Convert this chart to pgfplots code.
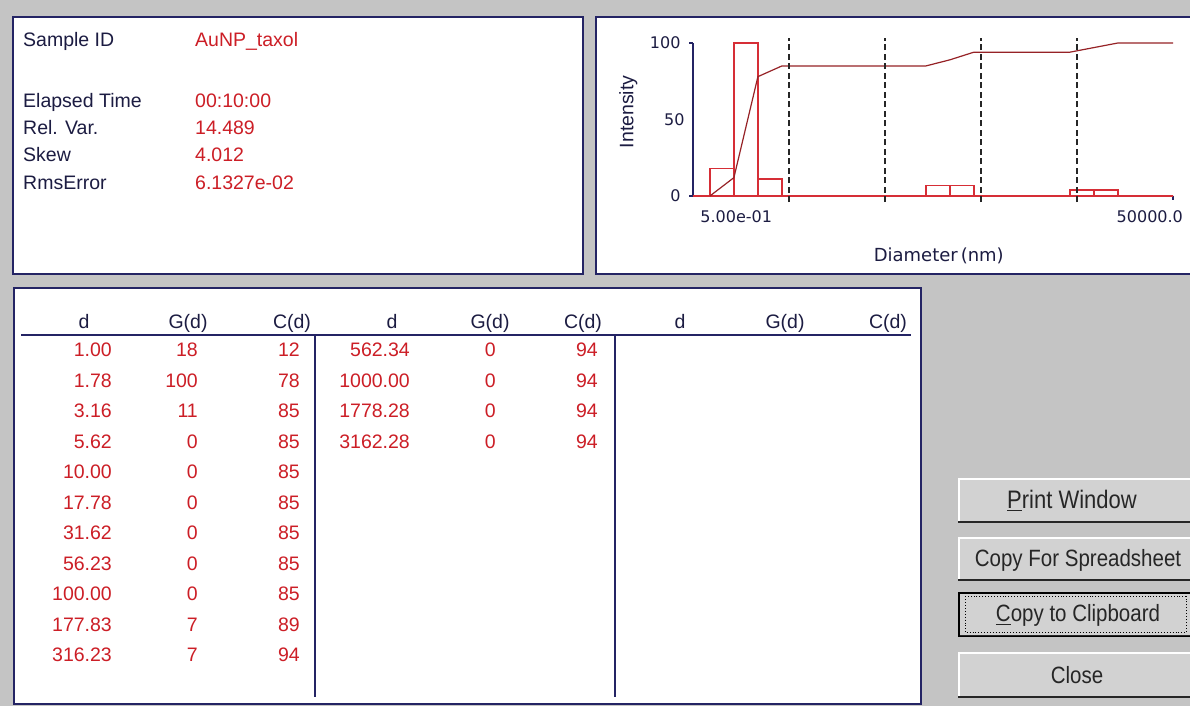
\documentclass[border=0pt]{standalone}
\usepackage{pgfplots}
\pgfplotsset{compat=1.18}
\usepackage{fontspec}
\usepackage{graphicx}
\setmainfont{Liberation Sans}
\newfontfamily\dejavu{DejaVu Sans}

\definecolor{winbg}{RGB}{196,196,196}
\definecolor{btnface}{RGB}{210,210,210}
\definecolor{navy}{RGB}{36,36,100}
\definecolor{labeltext}{RGB}{28,28,66}
\definecolor{valred}{RGB}{204,30,38}
\definecolor{plotred}{RGB}{214,46,54}
\definecolor{cumred}{RGB}{150,34,38}

\newcommand\uifont{\fontsize{19.5}{22}\selectfont}
\newcommand\btnfont{\fontsize{20.5}{22}\selectfont}
\newcommand\btntext[1]{\scalebox{1}[1.15]{#1}}

\begin{document}
\begin{tikzpicture}[x=1pt,y=1pt]
\useasboundingbox (0,0) rectangle (1190,706);
\clip (0,0) rectangle (1190,706);
\fill[winbg] (0,0) rectangle (1190,706);

\begin{scope}[shift={(0,706)}, yscale=-1]
  % panels
  \filldraw[fill=white, draw=navy, line width=2] (13,17) rectangle (583,274);
  \filldraw[fill=white, draw=navy, line width=2] (596,17) rectangle (1200,274);
  \filldraw[fill=white, draw=navy, line width=2] (14,288) rectangle (921,704);

  % sample summary
  \begin{scope}[every node/.style={font=\uifont, inner sep=0pt}]
    \node[anchor=base west, text=labeltext] at (23,47)  {Sample ID};
    \node[anchor=base west, text=labeltext] at (23,108) {Elapsed Time};
    \node[anchor=base west, text=labeltext] at (23,135) {Rel. Var.};
    \node[anchor=base west, text=labeltext] at (23,162) {Skew};
    \node[anchor=base west, text=labeltext] at (23,190) {RmsError};
    \node[anchor=base west, text=valred] at (195,47)  {AuNP\_taxol};
    \node[anchor=base west, text=valred] at (195,108) {00:10:00};
    \node[anchor=base west, text=valred] at (195,135) {14.489};
    \node[anchor=base west, text=valred] at (195,162) {4.012};
    \node[anchor=base west, text=valred] at (195,190) {6.1327e-02};
  \end{scope}

  % distribution table
  \draw[navy, line width=2] (21,335) -- (911,335);
  \draw[navy, line width=2] (315,335) -- (315,697);
  \draw[navy, line width=2] (615,335) -- (615,697);
  \begin{scope}[every node/.style={font=\uifont, inner sep=0pt, text=labeltext, anchor=base}]
    \foreach \x/\h in {84/d, 188/G(d), 292/C(d), 392/d, 490/G(d), 583/C(d), 680/d, 785/G(d), 888/C(d)}
      \node at (\x,329) {\h};
  \end{scope}
  \begin{scope}[every node/.style={font=\uifont, inner sep=0pt, text=valred, anchor=base east}]
    \foreach \d/\g/\c [count=\i from 0] in {1.00/18/12, 1.78/100/78, 3.16/11/85,
        5.62/0/85, 10.00/0/85, 17.78/0/85, 31.62/0/85, 56.23/0/85,
        100.00/0/85, 177.83/7/89, 316.23/7/94} {
      \node at (112,357+30.5*\i) {\d};
      \node at (198,357+30.5*\i) {\g};
      \node at (300,357+30.5*\i) {\c};
    }
    \foreach \d/\g/\c [count=\i from 0] in {562.34/0/94, 1000.00/0/94,
        1778.28/0/94, 3162.28/0/94} {
      \node at (410,357+30.5*\i) {\d};
      \node at (496,357+30.5*\i) {\g};
      \node at (598,357+30.5*\i) {\c};
    }
  \end{scope}

  % buttons
  \foreach \t/\b in {478/523, 537/581, 592/637, 652/698} {
    \fill[btnface] (958,\t) rectangle (1200,\b);
    \draw[white, line width=2] (959,\b-1) -- (959,\t+1) -- (1200,\t+1);
    \draw[black!85, line width=2] (958,\b-1) -- (1200,\b-1);
  }
  \draw[black, line width=1.6] (958.8,592.8) rectangle (1200,636.5);
  \draw[black, line width=0.9, dotted] (965,596.5) rectangle (1186,632.5);
  \begin{scope}[every node/.style={font=\btnfont, inner sep=0pt, text=black!85, anchor=base}]
    \node at (1072,509) {\btntext{\fontsize{22}{24}\selectfont\underline{P}rint Window}};
    \node at (1078,567) {\btntext{Copy For Spreadsheet}};
    \node at (1078,622) {\btntext{\underline{C}opy to Clipboard}};
    \node at (1077,683) {\btntext{Close}};
  \end{scope}
\end{scope}

% size distribution plot
\begin{axis}[
  at={(693pt,510pt)}, anchor=south west, scale only axis,
  width=480pt, height=153pt,
  xmode=log, xmin=0.5, xmax=50000, ymin=0, ymax=100,
  clip=false,
  axis lines*=left,
  axis line style={navy, line width=1.6pt},
  xminorticks=false, yminorticks=false,
  ytick={0,100}, yticklabels={0,100},
  extra y ticks={50}, extra y tick labels={50},
  extra y tick style={major tick length=0pt},
  xtick={50000}, xticklabels={},
  tick style={navy, line width=1.3pt},
  major tick length=4pt, tick align=outside,
  yticklabel style={font=\dejavu\fontsize{16}{17}\selectfont, text=labeltext, xshift=-5pt},
  every axis y label/.style={at={(rel axis cs:-0.135,0.55)}, rotate=90, anchor=center,
    font=\uifont, text=labeltext},
  every axis x label/.style={at={(rel axis cs:0.512,-0.425)}, anchor=base,
    font=\dejavu\fontsize{18}{20}\selectfont, text=labeltext},
  xlabel={Diameter\,(nm)}, ylabel={Intensity},
]
  % G(d): quarter-decade bins, given as (bin start, intensity)
  \addplot[ybar interval, draw=plotred, line width=1.5pt] coordinates {
    (0.5,0) (0.7499,18) (1.3335,100) (2.3714,11) (4.2170,0)
    (133.35,7) (237.14,7) (421.70,0) (4216.97,4) (7498.94,4)
    (13335.2,0) (50000,0)
  };
  % C(d): cumulative intensity at the bin edges
  \addplot[cumred, line width=1.2pt] coordinates {
    (0.7499,0) (1.3335,12) (2.3714,78) (4.2170,85) (133.35,85)
    (237.14,89) (421.70,94) (4216.97,94) (7498.94,97) (13335.2,100)
    (50000,100)
  };
  % decade markers
  \foreach \v in {5,50,500,5000} {
    \edef\temp{\noexpand\addplot[black!85, line width=1.9pt, dash pattern=on 6pt off 3.5pt, forget plot]
      coordinates {(\v,-4) (\v,103)};}
    \temp
  }
  \node[anchor=base, font=\dejavu\fontsize{16}{18}\selectfont, text=labeltext, inner sep=0pt]
    at (rel axis cs:0.09,-0.17) {5.00e-01};
  \node[anchor=base east, font=\dejavu\fontsize{16}{18}\selectfont, text=labeltext, inner sep=0pt]
    at (rel axis cs:1.021,-0.17) {50000.0};
\end{axis}
\end{tikzpicture}
\end{document}
